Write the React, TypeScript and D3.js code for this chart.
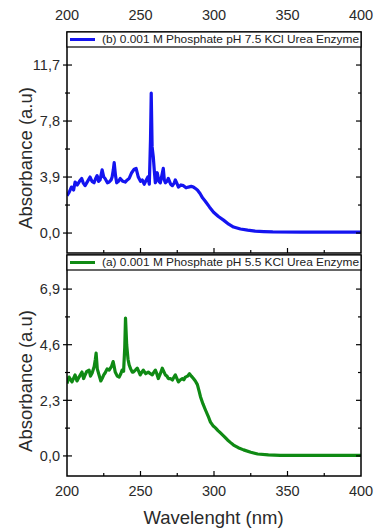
import React from "react";
import * as d3 from "d3";

const blueWl = [200,201.5,203,204.5,205.5,207,208.5,210,211,212.3,214,215.7,217,218.4,219.5,220.5,221.5,222.5,223.9,225,225.9,227.5,228.7,230,230.7,231.5,232.1,233,233.8,235,236.2,238,239.6,241,242.3,244,245.7,247,248.5,250,251.2,252.5,253.5,255,256,256.8,257.3,257.9,258.7,259.5,260.1,261.4,262.5,263.5,264.5,265.5,266.2,266.9,268,268.9,270.5,271.7,273,273.7,275,275.8,277.5,279.2,281,282.6,284.5,286,287.4,288.7,290.5,292.2,294.2,297,299.7,303,306.5,310,313.3,318,322.9,328,333.8,340,360,380,400];
const blueAbs = [2.6,2.85,3.2,3.0,3.55,3.35,3.6,3.8,3.5,3.3,3.6,3.9,3.6,3.5,3.8,4.0,3.6,3.7,4.4,3.9,3.8,3.5,3.55,3.7,3.9,4.4,4.9,4.0,3.5,3.6,3.8,3.6,3.55,3.7,3.8,4.2,4.45,4.5,3.9,3.6,3.7,3.4,3.6,3.9,3.4,6.5,9.75,6.0,5.3,4.2,3.5,4.2,3.6,3.5,4.0,4.5,3.7,3.5,3.6,3.8,3.4,3.3,3.5,3.7,3.4,3.2,3.35,3.3,3.15,3.2,3.25,3.2,3.1,3.0,2.75,2.45,2.2,1.8,1.45,1.15,0.9,0.62,0.42,0.28,0.2,0.13,0.1,0.08,0.07,0.07,0.07];

const greenWl = [200,201.4,203.4,205.5,206.8,208.2,210.2,211.3,212.3,213.5,215,216,217.1,218.5,219.3,219.8,220.6,221.8,223,223.9,225,225.9,227.3,228.7,230.3,231.4,232.1,232.8,234.2,235.5,236.6,237.5,238.5,239.3,239.8,240.6,241.5,242.3,243.3,244.4,245.1,246.5,247.8,248.8,249.8,250.8,251.9,253.5,255.3,256.7,258,259,260.1,261.1,262.1,263.5,264.8,265.8,266.9,268,268.9,270.3,271.7,272.7,273.7,274.8,275.8,277.2,278.5,279.5,280.5,282,283.3,284.6,286,287.3,288.7,290,290.8,292.5,294.2,296,297.6,299.3,301,302.7,304.4,307,309.2,311.3,313.3,316.5,320.1,325,329.7,337,345,370,400];
const greenAbs = [3.0,3.26,3.06,3.35,3.1,3.26,3.47,3.2,3.35,3.5,3.55,3.3,3.43,3.7,4.0,4.25,3.6,3.35,3.1,3.2,3.35,3.43,3.6,3.55,3.7,3.9,3.7,3.47,3.3,3.26,3.4,3.55,3.5,4.5,5.7,4.6,4.0,3.76,3.6,3.47,3.47,3.55,3.63,3.5,3.35,3.45,3.55,3.4,3.47,3.4,3.35,3.45,3.55,3.4,3.2,3.4,3.63,3.5,3.35,3.3,3.2,3.2,3.14,3.25,3.35,3.2,3.06,3.15,3.2,3.15,3.26,3.3,3.4,3.3,3.2,3.1,2.95,2.65,2.45,2.15,1.9,1.65,1.4,1.25,1.16,1.05,0.95,0.8,0.66,0.55,0.45,0.34,0.25,0.15,0.08,0.04,0.02,0.02,0.02];

const xTicks = [200, 250, 300, 350, 400];
const xMinor = [225, 275, 325, 375];
const topTicks = [0, 3.9, 7.8, 11.7];
const botTicks = [0, 2.3, 4.6, 6.9];
const topLegend = "(b) 0.001 M Phosphate pH 7.5 KCl Urea Enzyme";
const botLegend = "(a) 0.001 M Phosphate pH 5.5 KCl Urea Enzyme";

const L = 67, R = 361;
const x = d3.scaleLinear().domain([200, 400]).range([L, R]);
const fmt = (v: number) => v.toFixed(1).replace(".", ",");
const FONT = "Liberation Sans, Arial, sans-serif";

function Panel({ top, bottom, domain, ticks, wl, abs, color, legend }: any) {
  const y = d3.scaleLinear().domain(domain).range([bottom, top]);
  const line = d3.line<number>().x((_, i) => x(wl[i])).y((d) => y(d));
  const step = ticks[1] - ticks[0];
  const minor = ticks.map((t: number) => t + step / 2).filter((v: number) => y(v) > top + 16);
  return (
    <g>
      <defs>
        <clipPath id={"clip" + top}>
          <rect x={L} y={top + 15} width={R - L} height={bottom - top - 15} />
        </clipPath>
      </defs>
      <path d={line(abs) || ""} fill="none" stroke={color} strokeWidth={3.2} strokeLinejoin="round" clipPath={`url(#clip${top})`} />
      {xTicks.slice(1, -1).map((t) => (
        <line key={"xm" + t} x1={x(t)} x2={x(t)} y1={bottom} y2={bottom - 5} stroke="#000" strokeWidth={1.2} />
      ))}
      {xMinor.map((t) => (
        <line key={"xn" + t} x1={x(t)} x2={x(t)} y1={bottom} y2={bottom - 3} stroke="#000" strokeWidth={1.2} />
      ))}
      {ticks.map((t: number) => (
        <g key={"yt" + t}>
          <line x1={L - 4} x2={L + 5} y1={y(t)} y2={y(t)} stroke="#000" strokeWidth={1.2} />
          <line x1={R} x2={R - 5} y1={y(t)} y2={y(t)} stroke="#000" strokeWidth={1.2} />
          <text x={60} y={y(t)} dy="0.36em" textAnchor="end" fontSize={14.5} fill="#2a2a2a" fontFamily={FONT}>{fmt(t)}</text>
        </g>
      ))}
      {minor.map((t: number) => (
        <g key={"ym" + t}>
          <line x1={L - 2} x2={L + 3} y1={y(t)} y2={y(t)} stroke="#000" strokeWidth={1.2} />
          <line x1={R} x2={R - 3} y1={y(t)} y2={y(t)} stroke="#000" strokeWidth={1.2} />
        </g>
      ))}
      <rect x={L} y={top} width={R - L} height={bottom - top} fill="none" stroke="#000" strokeWidth={1.5} />
      <rect x={L} y={top} width={R - L} height={15} fill="#fff" stroke="#000" strokeWidth={1.2} />
      <line x1={70} x2={95} y1={top + 7.5} y2={top + 7.5} stroke={color} strokeWidth={3} />
      <text x={102} y={top + 11.3} fontSize={10.5} fill="#222" fontFamily={FONT} textLength={257} lengthAdjust="spacingAndGlyphs">{legend}</text>
      <text transform={`translate(32,${(top + 15 + bottom) / 2 + 8}) rotate(-90)`} textAnchor="middle" fontSize={18.5} fill="#2a2a2a" fontFamily={FONT}>Absorbance (a.u)</text>
    </g>
  );
}

export default function App() {
  return (
    <svg width={375} height={529} style={{ position: "absolute", left: 0, top: 0, background: "#fff" }}>
      <rect width={375} height={529} fill="#fff" />
      {xTicks.map((t) => (
        <text key={"tx" + t} x={x(t)} y={20} textAnchor="middle" fontSize={14.5} fill="#2a2a2a" fontFamily={FONT}>{t}</text>
      ))}
      <Panel top={32} bottom={253} domain={[-1.39, 14.0]} ticks={topTicks} wl={blueWl} abs={blueAbs} color="#1414f0" legend={topLegend} />
      <Panel top={255} bottom={476} domain={[-0.83, 8.31]} ticks={botTicks} wl={greenWl} abs={greenAbs} color="#0f8a14" legend={botLegend} />
      {xTicks.map((t) => (
        <text key={"bx" + t} x={x(t)} y={496} textAnchor="middle" fontSize={14.5} fill="#2a2a2a" fontFamily={FONT}>{t}</text>
      ))}
      <text x={213.5} y={524} textAnchor="middle" fontSize={18.5} fill="#2a2a2a" fontFamily={FONT}>Wavelenght (nm)</text>
    </svg>
  );
}
